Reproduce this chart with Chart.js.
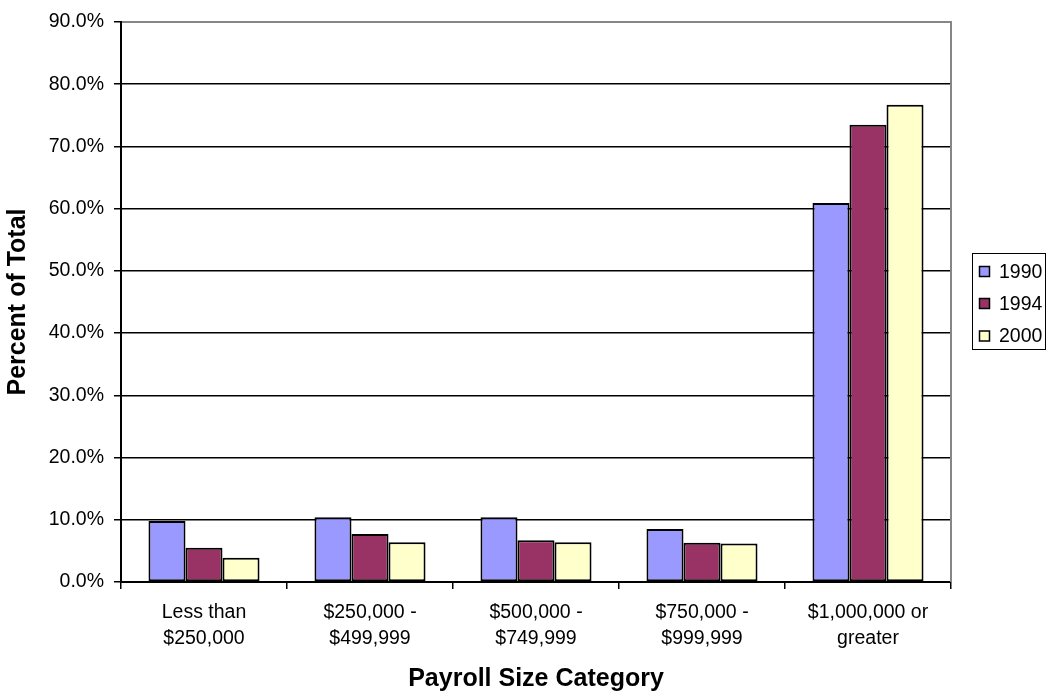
<!DOCTYPE html>
<html>
<head>
<meta charset="utf-8">
<script src="https://cdn.jsdelivr.net/npm/chart.js@4/dist/chart.umd.min.js"></script>
<style>
  html, body { margin: 0; padding: 0; background: #fff; }
  #wrap { width: 1049px; height: 693px; position: relative; }
</style>
</head>
<body>
<div id="wrap"><canvas id="c" width="1049" height="693"></canvas></div>
<script>
const categories = [
  ["Less than", "$250,000"],
  ["$250,000 -", "$499,999"],
  ["$500,000 -", "$749,999"],
  ["$750,000 -", "$999,999"],
  ["$1,000,000 or", "greater"]
];
const seriesNames = ["1990", "1994", "2000"];
const values1990 = [9.8, 10.4, 10.4, 8.5, 60.9];
const values1994 = [5.5, 7.7, 6.7, 6.3, 73.5];
const values2000 = [3.9, 6.4, 6.4, 6.2, 76.7];
const seriesColors = ["#9999FF", "#993366", "#FFFFCC"];
const yMin = 0, yMax = 90, yStep = 10;

const FONT = "'Liberation Sans', Arial, sans-serif";

const frameAndLegend = {
  id: 'frameAndLegend',
  afterDraw(chart) {
    const ctx = chart.ctx;
    const a = chart.chartArea;
    ctx.save();
    // gray top and right frame
    ctx.strokeStyle = '#868686';
    ctx.lineWidth = 2;
    ctx.beginPath();
    ctx.moveTo(a.left + 1, a.top);
    ctx.lineTo(a.right, a.top);
    ctx.lineTo(a.right, a.bottom);
    ctx.stroke();
    // legend box
    const lx = 972.5, ly = 253.5, lw = 73, lh = 96;
    ctx.strokeStyle = '#000';
    ctx.lineWidth = 1;
    ctx.fillStyle = '#fff';
    ctx.fillRect(lx, ly, lw, lh);
    ctx.strokeRect(lx, ly, lw, lh);
    const rows = [271.5, 303.5, 336];
    ctx.font = '19.5px ' + FONT;
    ctx.textBaseline = 'middle';
    ctx.textAlign = 'left';
    chart.data.datasets.forEach((ds, i) => {
      const cy = rows[i];
      ctx.fillStyle = ds.backgroundColor;
      ctx.fillRect(979.5, cy - 5, 10, 10);
      ctx.strokeStyle = '#000';
      ctx.lineWidth = 1.5;
      ctx.strokeRect(979.5, cy - 5, 10, 10);
      ctx.fillStyle = '#000';
      ctx.fillText(ds.label, 999, cy + 1);
    });
    ctx.restore();
  }
};

new Chart(document.getElementById('c'), {
  type: 'bar',
  data: {
    labels: categories,
    datasets: [
      { label: seriesNames[0], data: values1990, backgroundColor: seriesColors[0] },
      { label: seriesNames[1], data: values1994, backgroundColor: seriesColors[1] },
      { label: seriesNames[2], data: values2000, backgroundColor: seriesColors[2] }
    ].map(d => Object.assign(d, { borderColor: '#000', borderWidth: 2, borderSkipped: false }))
  },
  options: {
    responsive: false,
    animation: false,
    devicePixelRatio: 1,
    layout: { padding: { top: 22, right: 98, bottom: 0, left: 0 } },
    datasets: { bar: { categoryPercentage: 0.669, barPercentage: 1 } },
    plugins: {
      legend: { display: false },
      tooltip: { enabled: false }
    },
    scales: {
      x: {
        grid: { drawOnChartArea: false, drawTicks: true, tickLength: 7, color: '#000', lineWidth: 1.5 },
        border: { color: '#000', width: 2 },
        ticks: {
          color: '#000',
          padding: 10,
          maxRotation: 0,
          autoSkip: false,
          font: { family: FONT, size: 19.5, lineHeight: 1.35 }
        },
        title: {
          display: true,
          text: 'Payroll Size Category',
          color: '#000',
          font: { family: FONT, size: 25, weight: 'bold', lineHeight: 1 },
          padding: { top: 0, bottom: 1 }
        },
        afterFit(scale) { scale.height = 111; }
      },
      y: {
        min: yMin,
        max: yMax,
        grid: { color: '#000', lineWidth: 1.5, tickLength: 7, drawTicks: true },
        border: { color: '#000', width: 2 },
        ticks: {
          stepSize: yStep,
          color: '#000',
          padding: 10,
          font: { family: FONT, size: 19.5 },
          callback: v => v.toFixed(1) + '%'
        },
        title: {
          display: true,
          text: 'Percent of Total',
          color: '#000',
          font: { family: FONT, size: 25, weight: 'bold', lineHeight: 1 },
          padding: { top: 6, bottom: 0 }
        },
        afterFit(scale) { scale.width = 121; }
      }
    }
  },
  plugins: [frameAndLegend]
});
</script>
</body>
</html>
